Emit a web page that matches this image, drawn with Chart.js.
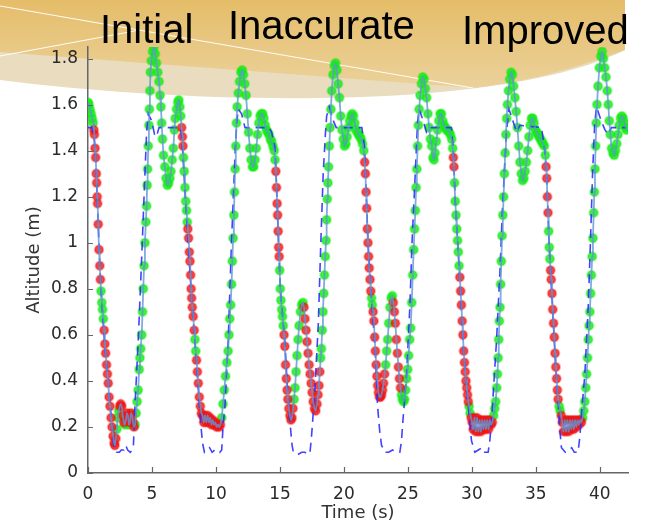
<!DOCTYPE html>
<html>
<head>
<meta charset="utf-8">
<script src="https://cdn.jsdelivr.net/npm/chart.js@4.4.1/dist/chart.umd.min.js"></script>
<style>
  html, body { margin: 0; padding: 0; background: #fff; }
  canvas { display: block; }
</style>
</head>
<body>
<canvas id="altChart" width="646" height="528"></canvas>
<script>
// axis ticks
const xTicks = [0, 5, 10, 15, 20, 25, 30, 35, 40]
const yTicks = [0, 0.2, 0.4, 0.6, 0.8, 1, 1.2, 1.4, 1.6, 1.8]
const headings = ['Initial', 'Inaccurate', 'Improved']

// estimated altitude (solid line + dots), time in s, altitude in m
const estTime = [
  0.00, 0.08, 0.16, 0.25, 0.33, 0.40, 0.46, 0.50, 0.55, 0.60,
  0.65, 0.68, 0.72, 0.75, 0.80, 0.86, 0.92, 0.97, 1.02, 1.08,
  1.14, 1.20, 1.26, 1.32, 1.38, 1.45, 1.52, 1.58, 1.65, 1.72,
  1.80, 1.88, 1.96, 2.04, 2.10, 2.18, 2.25, 2.32, 2.40, 2.48,
  2.56, 2.64, 2.72, 2.80, 2.88, 2.96, 3.04, 3.12, 3.20, 3.28,
  3.36, 3.44, 3.52, 3.60, 3.68, 3.76, 3.84, 3.92, 4.00, 4.06,
  4.12, 4.20, 4.26, 4.32, 4.38, 4.45, 4.52, 4.58, 4.62, 4.66,
  4.71, 4.76, 4.80, 4.84, 4.88, 4.95, 5.05, 5.15, 5.25, 5.35,
  5.45, 5.55, 5.63, 5.70, 5.76, 5.82, 5.90, 6.00, 6.10, 6.20,
  6.30, 6.40, 6.48, 6.58, 6.67, 6.75, 6.82, 6.92, 7.02, 7.10,
  7.18, 7.25, 7.32, 7.38, 7.42, 7.46, 7.52, 7.58, 7.64, 7.70,
  7.76, 7.80, 7.86, 7.92, 7.97, 8.02, 8.06, 8.10, 8.15, 8.22,
  8.30, 8.36, 8.42, 8.48, 8.55, 8.62, 8.70, 8.78, 8.86, 8.95,
  9.05, 9.15, 9.25, 9.35, 9.45, 9.55, 9.65, 9.75, 9.85, 9.95,
  10.05, 10.15, 10.25, 10.35, 10.45,
  10.55, 10.65, 10.75, 10.85, 10.95, 11.02, 11.08, 11.15, 11.22, 11.28,
  11.34, 11.40, 11.45, 11.50, 11.55, 11.60, 11.66, 11.75, 11.85, 11.95,
  12.05, 12.15, 12.25, 12.35, 12.45, 12.55, 12.65, 12.75, 12.85, 12.95,
  13.05, 13.15, 13.25, 13.35, 13.45, 13.55, 13.65, 13.75, 13.85, 13.95,
  14.05, 14.15, 14.25, 14.35, 14.45, 14.55, 14.62, 14.68, 14.73, 14.78,
  14.82, 14.86, 14.90, 14.94, 14.98, 15.03, 15.08, 15.14, 15.20, 15.26,
  15.32, 15.38, 15.44, 15.50, 15.56, 15.62, 15.70, 15.78, 15.86, 15.94,
  16.02, 16.10, 16.18, 16.26, 16.34, 16.42, 16.50, 16.60, 16.70, 16.80,
  16.88, 16.96, 17.04, 17.12, 17.20, 17.28, 17.36, 17.44, 17.52, 17.60,
  17.70, 17.80, 17.90, 17.98, 18.05, 18.12, 18.18, 18.24, 18.30, 18.36,
  18.42, 18.48, 18.54, 18.60, 18.65, 18.70, 18.75, 18.80, 18.86, 18.92,
  18.98, 19.05, 19.15, 19.25, 19.35, 19.45, 19.55, 19.65, 19.75, 19.85,
  19.95, 20.05, 20.15, 20.25, 20.35, 20.45, 20.55, 20.65, 20.75, 20.85,
  20.95, 21.05, 21.15, 21.25, 21.35, 21.45, 21.55, 21.62, 21.68, 21.73,
  21.78, 21.83, 21.88, 21.93, 21.98, 22.04, 22.10, 22.16, 22.22, 22.28,
  22.34, 22.40, 22.46, 22.52, 22.58, 22.64, 22.70, 22.78, 22.86, 22.94,
  23.02, 23.10, 23.18, 23.26, 23.34, 23.42, 23.50, 23.60, 23.70, 23.78,
  23.86, 23.94, 24.02, 24.10, 24.18, 24.26, 24.34, 24.42, 24.50, 24.58,
  24.66, 24.74, 24.82, 24.90, 24.98, 25.06, 25.14, 25.22, 25.30, 25.38,
  25.45, 25.52, 25.58, 25.64, 25.70, 25.76, 25.82, 25.88, 25.96, 26.06,
  26.16, 26.26, 26.36, 26.46, 26.56, 26.66, 26.76, 26.86, 26.96, 27.04,
  27.12, 27.22, 27.32, 27.42, 27.52, 27.62, 27.72, 27.82, 27.92, 28.02,
  28.12, 28.22, 28.32, 28.42, 28.50, 28.55, 28.60, 28.64, 28.70, 28.76,
  28.82, 28.88, 28.94, 29.00, 29.06, 29.12, 29.18, 29.24, 29.30, 29.36,
  29.42, 29.48, 29.54, 29.60, 29.66, 29.72, 29.78, 29.86, 29.94, 30.02,
  30.10, 30.20, 30.30, 30.40, 30.50, 30.60, 30.70, 30.80, 30.90, 31.00,
  31.10, 31.20, 31.30, 31.40, 31.50, 31.60, 31.70, 31.78, 31.86, 31.94,
  32.00, 32.05, 32.10, 32.15, 32.20, 32.25, 32.30, 32.36, 32.42, 32.48,
  32.54, 32.60, 32.66, 32.72, 32.78, 32.86, 32.96, 33.06, 33.16, 33.26,
  33.36, 33.46, 33.56, 33.66, 33.76, 33.86, 33.96, 34.06, 34.16, 34.26,
  34.36, 34.46, 34.56, 34.66, 34.76, 34.86, 34.96, 35.06, 35.16, 35.26,
  35.36, 35.46, 35.56, 35.66, 35.74, 35.80, 35.85, 35.90, 35.95, 36.00,
  36.05, 36.10, 36.15, 36.20, 36.26, 36.32, 36.38, 36.44, 36.50, 36.56,
  36.62, 36.68, 36.74, 36.82, 36.90, 36.98, 37.06, 37.16, 37.26, 37.36,
  37.46, 37.56, 37.66, 37.76, 37.86, 37.96, 38.06, 38.16, 38.26, 38.36,
  38.46, 38.56, 38.66, 38.74, 38.82, 38.90, 38.97, 39.04, 39.10, 39.16,
  39.22, 39.28, 39.34, 39.40, 39.46, 39.52, 39.57, 39.62, 39.67, 39.72,
  39.78, 39.86, 39.96, 40.08, 40.18, 40.28, 40.38, 40.48, 40.58, 40.66,
  40.74, 40.82, 40.92, 41.02, 41.12, 41.22, 41.32, 41.42, 41.52, 41.62,
  41.72, 41.82, 41.92, 42.02, 42.08,
]
const estAlt = [
  1.61, 1.60, 1.58, 1.56, 1.54, 1.52, 1.49, 1.47, 1.41, 1.37,
  1.30, 1.26, 1.20, 1.17, 1.08, 0.97, 0.90, 0.84, 0.79, 0.74,
  0.71, 0.67, 0.62, 0.56, 0.52, 0.47, 0.43, 0.39, 0.33, 0.29,
  0.24, 0.20, 0.16, 0.13, 0.12, 0.15, 0.19, 0.24, 0.27, 0.29,
  0.30, 0.29, 0.25, 0.22, 0.21, 0.23, 0.26, 0.25, 0.21, 0.22,
  0.26, 0.25, 0.22, 0.20, 0.21, 0.26, 0.31, 0.36, 0.45, 0.50,
  0.54, 0.60, 0.70, 0.80, 0.90, 1.00, 1.09, 1.16, 1.25, 1.32,
  1.42, 1.51, 1.58, 1.66, 1.74, 1.79, 1.83, 1.85, 1.82, 1.78,
  1.74, 1.70, 1.64, 1.59, 1.52, 1.45, 1.38, 1.33, 1.28, 1.25,
  1.26, 1.28, 1.31, 1.36, 1.41, 1.49, 1.54, 1.58, 1.61, 1.62,
  1.59, 1.55, 1.50, 1.46, 1.42, 1.37, 1.31, 1.24, 1.18, 1.14,
  1.09, 1.06, 1.02, 0.96, 0.92, 0.86, 0.80, 0.76, 0.72, 0.68,
  0.62, 0.58, 0.53, 0.49, 0.44, 0.39, 0.33, 0.29, 0.26, 0.25,
  0.22, 0.25, 0.22, 0.25, 0.22, 0.24, 0.21, 0.23, 0.21, 0.22,
  0.20, 0.21, 0.20, 0.21, 0.24,
  0.30, 0.36, 0.42, 0.48, 0.53, 0.60, 0.67, 0.73, 0.82, 0.92,
  1.02, 1.12, 1.22, 1.32, 1.42, 1.52, 1.59, 1.65, 1.70, 1.74,
  1.75, 1.73, 1.69, 1.64, 1.56, 1.48, 1.41, 1.36, 1.33, 1.33,
  1.36, 1.41, 1.47, 1.52, 1.55, 1.56, 1.56, 1.54, 1.51, 1.49,
  1.48, 1.47, 1.45, 1.44, 1.42, 1.40, 1.36, 1.31, 1.24, 1.17,
  1.12, 1.05, 0.98, 0.94, 0.88, 0.80, 0.75, 0.71, 0.68, 0.64,
  0.60, 0.55, 0.47, 0.41, 0.36, 0.32, 0.28, 0.25, 0.23, 0.24,
  0.28, 0.32, 0.37, 0.44, 0.51, 0.58, 0.64, 0.70, 0.73, 0.74,
  0.72, 0.67, 0.62, 0.57, 0.52, 0.47, 0.43, 0.39, 0.35, 0.31,
  0.28, 0.27, 0.30, 0.34, 0.38, 0.44, 0.50, 0.54, 0.62, 0.70,
  0.78, 0.86, 0.94, 1.01, 1.10, 1.19, 1.26, 1.33, 1.42, 1.50,
  1.58, 1.66, 1.73, 1.77, 1.78, 1.75, 1.69, 1.63, 1.55, 1.49,
  1.45, 1.42, 1.43, 1.46, 1.50, 1.53, 1.55, 1.56, 1.55, 1.52,
  1.49, 1.48, 1.47, 1.46, 1.45, 1.43, 1.40, 1.35, 1.30, 1.22,
  1.15, 1.06, 1.00, 0.94, 0.89, 0.84, 0.79, 0.76, 0.73, 0.70,
  0.66, 0.59, 0.53, 0.47, 0.42, 0.38, 0.35, 0.33, 0.33, 0.34,
  0.36, 0.39, 0.43, 0.47, 0.53, 0.58, 0.65, 0.72, 0.76, 0.77,
  0.74, 0.70, 0.65, 0.58, 0.52, 0.46, 0.41, 0.37, 0.34, 0.32,
  0.31, 0.32, 0.36, 0.41, 0.45, 0.51, 0.58, 0.63, 0.74, 0.86,
  0.97, 1.06, 1.14, 1.24, 1.32, 1.42, 1.51, 1.58, 1.64, 1.69,
  1.72, 1.71, 1.67, 1.63, 1.56, 1.50, 1.45, 1.42, 1.37, 1.36,
  1.39, 1.44, 1.49, 1.53, 1.56, 1.56, 1.53, 1.51, 1.50, 1.49,
  1.49, 1.48, 1.47, 1.45, 1.41, 1.37, 1.33, 1.26, 1.18, 1.12,
  1.06, 1.01, 0.96, 0.90, 0.85, 0.79, 0.73, 0.66, 0.60, 0.53,
  0.48, 0.44, 0.40, 0.37, 0.34, 0.31, 0.29, 0.26, 0.24, 0.22,
  0.19, 0.24, 0.18, 0.24, 0.18, 0.23, 0.18, 0.23, 0.19, 0.23,
  0.19, 0.23, 0.19, 0.23, 0.21, 0.22, 0.25, 0.28, 0.31, 0.37,
  0.43, 0.50, 0.58, 0.66, 0.72, 0.82, 0.92, 1.03, 1.12, 1.20,
  1.30, 1.39, 1.47, 1.54, 1.60, 1.66, 1.71, 1.74, 1.73, 1.68,
  1.63, 1.57, 1.50, 1.42, 1.35, 1.30, 1.27, 1.28, 1.31, 1.35,
  1.40, 1.46, 1.51, 1.54, 1.54, 1.52, 1.49, 1.48, 1.47, 1.46,
  1.45, 1.44, 1.43, 1.42, 1.38, 1.33, 1.28, 1.20, 1.13, 1.05,
  0.98, 0.93, 0.88, 0.84, 0.78, 0.71, 0.65, 0.59, 0.52, 0.46,
  0.41, 0.36, 0.32, 0.29, 0.27, 0.25, 0.22, 0.18, 0.23, 0.18,
  0.23, 0.18, 0.23, 0.19, 0.23, 0.19, 0.23, 0.20, 0.23, 0.21,
  0.23, 0.22, 0.24, 0.27, 0.31, 0.37, 0.43, 0.50, 0.58, 0.64,
  0.70, 0.78, 0.86, 0.94, 1.02, 1.13, 1.22, 1.32, 1.42, 1.52,
  1.60, 1.68, 1.76, 1.81, 1.83, 1.80, 1.76, 1.72, 1.66, 1.60,
  1.53, 1.47, 1.41, 1.39, 1.38, 1.40, 1.43, 1.47, 1.51, 1.54,
  1.55, 1.54, 1.52, 1.50, 1.49,
]
// time spans where the estimate is marked inaccurate (red dots)
const redSpans = [
  [0.44, 0.99], [1.24, 2.20], [2.45, 2.82], [2.92, 3.15], [3.25, 3.62],
  [7.30, 7.44], [7.78, 8.32], [8.46, 10.40],
  [14.66, 14.96], [15.30, 16.05], [16.85, 18.14],
  [21.60, 22.12], [22.26, 23.20], [23.84, 24.45],
  [28.53, 28.62], [29.04, 29.75], [29.90, 31.65],
  [35.78, 35.97], [36.13, 36.78], [36.95, 38.60],
]

// true altitude (dashed line)
const refTime = [
  0.00, 0.30, 0.45, 0.60, 0.80, 1.00, 1.30, 1.55, 1.75, 1.90,
  2.05, 2.25, 2.45, 2.60, 2.80, 2.95, 3.10, 3.30, 3.45, 3.55,
  3.67, 3.93, 4.20, 4.40, 4.58, 4.71, 4.97, 5.20, 5.35, 5.55,
  7.25, 7.40, 7.60, 8.05, 8.55, 8.80, 8.95, 9.10, 9.30, 9.50,
  9.70, 9.90, 10.10, 10.30, 10.45, 10.55, 10.70, 10.96, 11.20, 11.48,
  11.62, 11.75, 12.00, 12.27, 14.15, 14.35, 14.60, 14.70, 14.90, 15.05,
  15.40, 15.55, 15.70, 15.85, 15.95, 16.05, 16.40, 16.70, 16.95, 17.15,
  17.35, 17.47, 17.73, 18.00, 18.20, 18.38, 18.55, 18.65, 18.85, 19.17,
  19.40, 21.40, 21.60, 21.70, 21.90, 22.15, 22.45, 22.63, 22.80, 22.94,
  23.20, 23.50, 23.80, 24.10, 24.37, 24.50, 24.60, 24.90, 25.15, 25.33,
  25.55, 25.75, 25.87, 26.20, 26.45, 26.70, 28.40, 28.55, 28.70, 29.05,
  29.35, 29.60, 29.80, 29.97, 30.23, 30.50, 30.80, 31.00, 31.27, 31.40,
  31.53, 31.93, 32.19, 32.40, 32.70, 32.90, 33.20, 33.50, 33.75, 35.44,
  35.70, 35.85, 36.05, 36.30, 36.55, 36.75, 36.90, 37.00, 37.30, 37.60,
  37.80, 38.00, 38.30, 38.44, 38.60, 38.83, 39.09, 39.27, 39.43, 39.60,
  39.74, 40.10, 40.40, 40.65, 40.90, 41.80, 42.05,
]
const refAlt = [
  1.50, 1.50, 1.47, 1.37, 1.08, 0.80, 0.56, 0.42, 0.28, 0.19,
  0.10, 0.09, 0.09, 0.10, 0.10, 0.12, 0.10, 0.09, 0.10, 0.12,
  0.29, 0.58, 0.94, 1.23, 1.48, 1.56, 1.53, 1.47, 1.46, 1.50,
  1.50, 1.40, 1.20, 0.80, 0.42, 0.22, 0.13, 0.09, 0.10, 0.11,
  0.09, 0.10, 0.10, 0.09, 0.10, 0.20, 0.29, 0.58, 0.98, 1.37,
  1.52, 1.58, 1.56, 1.50, 1.50, 1.48, 1.42, 1.30, 0.98, 0.78,
  0.56, 0.40, 0.28, 0.18, 0.12, 0.09, 0.08, 0.09, 0.09, 0.08,
  0.09, 0.16, 0.36, 0.65, 1.01, 1.30, 1.47, 1.55, 1.59, 1.53,
  1.50, 1.50, 1.42, 1.28, 0.98, 0.76, 0.53, 0.29, 0.18, 0.12,
  0.09, 0.09, 0.10, 0.09, 0.09, 0.14, 0.22, 0.43, 0.72, 1.01,
  1.27, 1.52, 1.58, 1.53, 1.48, 1.50, 1.50, 1.40, 1.18, 0.85,
  0.53, 0.36, 0.24, 0.14, 0.09, 0.10, 0.11, 0.09, 0.09, 0.14,
  0.22, 0.58, 0.87, 1.16, 1.48, 1.58, 1.53, 1.48, 1.51, 1.50,
  1.40, 1.28, 0.98, 0.72, 0.46, 0.30, 0.17, 0.11, 0.09, 0.10,
  0.11, 0.09, 0.09, 0.16, 0.28, 0.43, 0.72, 1.01, 1.30, 1.52,
  1.59, 1.53, 1.49, 1.47, 1.50, 1.50, 1.50,
]

const toPoints = (ts, ys) => ts.map((t, i) => ({ x: t, y: ys[i] }))
const isRed = (t) => redSpans.some(([a, b]) => t >= a && t <= b)
const estPoints = toPoints(estTime, estAlt)
const greenPoints = estPoints.filter((p) => !isRed(p.x))
const redPoints = estPoints.filter((p) => isRed(p.x))

// gold slide banner behind the plot, with the three headings
const banner = {
	id: 'banner',
	beforeDraw(chart) {
		const ctx = chart.ctx
		ctx.save()
		ctx.fillStyle = '#fff'
		ctx.fillRect(0, 0, chart.width, chart.height)

		ctx.beginPath()
		ctx.moveTo(0, 0)
		ctx.lineTo(625, 0)
		ctx.lineTo(625, 50)
		ctx.bezierCurveTo(500, 112, 200, 105, 0, 80)
		ctx.closePath()
		ctx.fillStyle = '#e9dcbf'
		ctx.fill()

		const grad = ctx.createLinearGradient(0, 0, 0, 90)
		grad.addColorStop(0, '#e5bd69')
		grad.addColorStop(1, '#ebd29c')
		ctx.beginPath()
		ctx.moveTo(0, 0)
		ctx.lineTo(625, 0)
		ctx.lineTo(625, 50)
		ctx.quadraticCurveTo(545, 80, 473, 88)
		ctx.lineTo(0, 52)
		ctx.closePath()
		ctx.fillStyle = grad
		ctx.fill()

		ctx.strokeStyle = 'rgba(255,255,255,0.95)'
		ctx.lineWidth = 1
		ctx.beginPath()
		ctx.moveTo(0, 6)
		ctx.lineTo(473, 88)
		ctx.moveTo(0, 56)
		ctx.lineTo(140, 30)
		ctx.stroke()

		ctx.fillStyle = '#000'
		ctx.font = '40px "Liberation Sans", Arial, sans-serif'
		ctx.textBaseline = 'alphabetic'
		ctx.fillText(headings[0], 100, 43)
		ctx.fillText(headings[1], 228, 39)
		ctx.fillText(headings[2], 462, 44)
		ctx.restore()
	},
}

// short tick marks pointing into the plot
const inwardTicks = {
	id: 'inwardTicks',
	afterDraw(chart) {
		const { ctx, scales: { x, y } } = chart
		ctx.save()
		ctx.strokeStyle = '#666'
		ctx.lineWidth = 1.2
		ctx.beginPath()
		yTicks.forEach((v) => {
			const py = Math.round(y.getPixelForValue(v)) + 0.5
			ctx.moveTo(x.left, py)
			ctx.lineTo(x.left + 5, py)
		})
		xTicks.forEach((v) => {
			const px = Math.round(x.getPixelForValue(v)) + 0.5
			ctx.moveTo(px, y.bottom)
			ctx.lineTo(px, y.bottom - 6)
		})
		ctx.stroke()
		ctx.restore()
	},
}

const tickFont = { family: '"DejaVu Sans", sans-serif', size: 17 }
const titleFont = { family: '"DejaVu Sans", sans-serif', size: 18 }

const ctxAlt = document.getElementById('altChart').getContext('2d')
const chartAlt = new Chart(ctxAlt, {
	type: 'scatter',
	data: {
		datasets: [
			{
				type: 'line',
				label: 'True altitude',
				data: toPoints(refTime, refAlt),
				borderColor: 'rgba(45, 45, 255, 0.9)',
				borderWidth: 1.6,
				borderDash: [9, 6],
				pointRadius: 0,
				tension: 0,
				order: 1,
			},
			{
				type: 'line',
				label: 'Estimate',
				data: estPoints,
				borderColor: 'rgba(95, 150, 215, 0.8)',
				borderWidth: 1.8,
				borderJoinStyle: 'round',
				pointRadius: 0,
				tension: 0,
				order: 0,
			},
			{
				label: 'Accurate',
				data: greenPoints,
				pointRadius: 4.3,
				backgroundColor: 'rgba(20, 235, 20, 0.82)',
				borderColor: 'rgba(20, 235, 20, 0.35)',
				borderWidth: 2,
				order: 3,
			},
			{
				label: 'Inaccurate',
				data: redPoints,
				pointRadius: 4.3,
				backgroundColor: 'rgba(240, 20, 20, 0.8)',
				borderColor: 'rgba(240, 20, 20, 0.3)',
				borderWidth: 2,
				order: 2,
			},
		],
	},
	options: {
		responsive: false,
		animation: false,
		layout: { padding: { top: 47, right: 18, left: 0, bottom: 0 } },
		plugins: {
			legend: { display: false },
			tooltip: { enabled: false },
		},
		scales: {
			x: {
				type: 'linear',
				min: 0,
				max: 42.2,
				afterFit: (s) => { s.height = 55 },
				afterBuildTicks: (s) => { s.ticks = xTicks.map((v) => ({ value: v })) },
				grid: { display: false, drawTicks: false },
				border: { color: '#666', width: 1.5 },
				ticks: { font: tickFont, color: '#2a2a2a', padding: 11, maxRotation: 0, callback: (v) => String(v) },
				title: { display: true, text: 'Time (s)', font: titleFont, color: '#333', padding: { top: 0, bottom: 4 } },
			},
			y: {
				min: 0,
				max: 1.85,
				afterFit: (s) => { s.width = 88 },
				afterBuildTicks: (s) => { s.ticks = yTicks.map((v) => ({ value: v })) },
				grid: { display: false, drawTicks: false },
				border: { color: '#666', width: 1.5 },
				ticks: { font: tickFont, color: '#2a2a2a', padding: 10, callback: (v) => String(+v.toFixed(1)) },
				title: { display: true, text: 'Altitude (m)', font: titleFont, color: '#333', padding: { top: 24, bottom: 0 } },
			},
		},
	},
	plugins: [banner, inwardTicks],
})
</script>
</body>
</html>
